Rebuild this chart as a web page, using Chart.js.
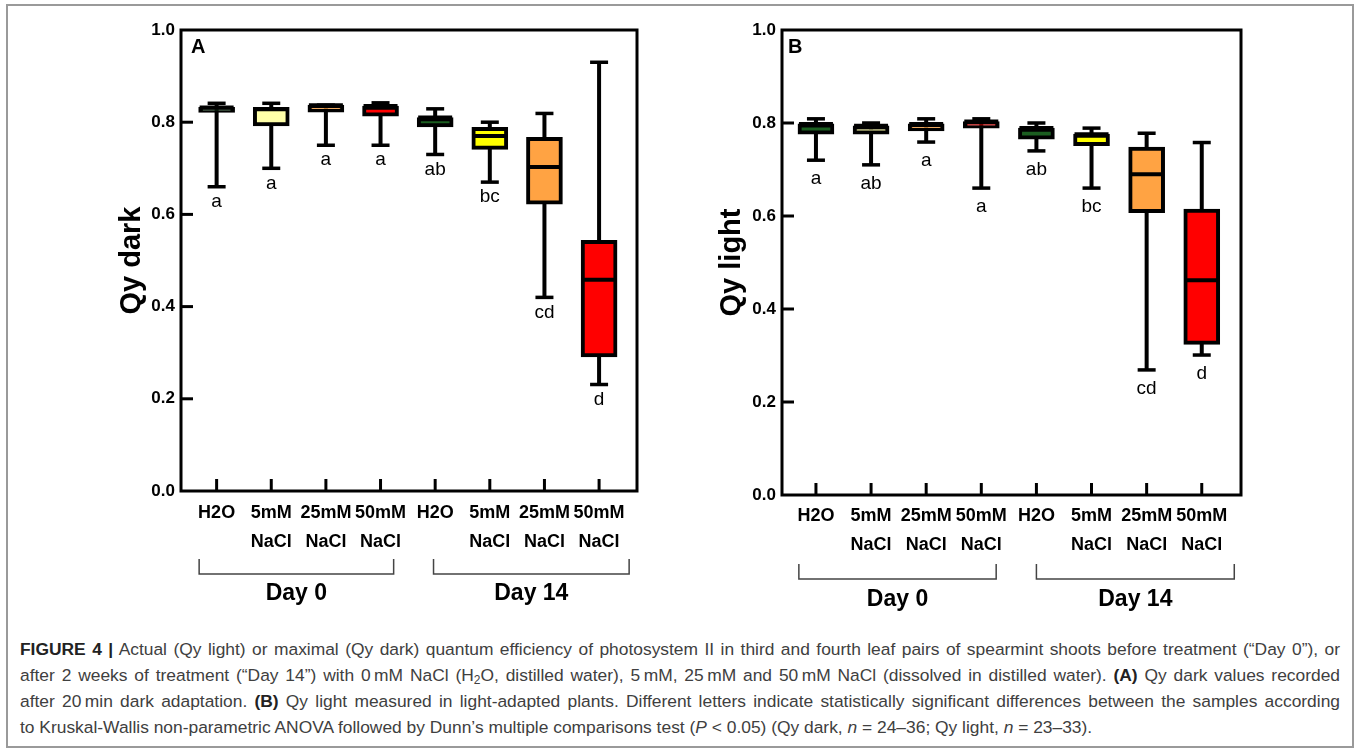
<!DOCTYPE html>
<html>
<head>
<meta charset="utf-8">
<script src="https://cdn.jsdelivr.net/npm/chart.js@4.4.1/dist/chart.umd.min.js"></script>
<style>
  body { margin: 0; background: #fff; width: 1358px; height: 750px; overflow: hidden; position: relative; font-family: "Liberation Sans", Arial, sans-serif; }
  #frame { position: absolute; left: 6px; top: 4px; width: 1348px; height: 744px; border: 2px solid #9a9a9a; box-sizing: border-box; }
  .panel { position: absolute; top: 0; }
  #caption { position: absolute; left: 20px; top: 636px; width: 1320px; font-size: 17.4px; color: #404040; line-height: 26px; }
  #caption div { white-space: nowrap; text-align: justify; text-align-last: justify; }
  #caption div.last { text-align-last: left; }
  #caption b { color: #222; }
  #caption sub { font-size: 12px; line-height: 0; vertical-align: -3px; }
</style>
</head>
<body>
<div id="frame"></div>
<canvas id="chartA" class="panel" style="left:0px" width="680" height="620"></canvas>
<canvas id="chartB" class="panel" style="left:680px" width="620" height="620"></canvas>
<div id="caption">
  <div><b>FIGURE 4 |</b> Actual (Qy light) or maximal (Qy dark) quantum efficiency of photosystem II in third and fourth leaf pairs of spearmint shoots before treatment (“Day 0”), or</div>
  <div>after 2 weeks of treatment (“Day 14”) with 0&thinsp;mM NaCl (H<sub>2</sub>O, distilled water), 5&thinsp;mM, 25&thinsp;mM and 50&thinsp;mM NaCl (dissolved in distilled water). <b>(A)</b> Qy dark values recorded</div>
  <div>after 20&thinsp;min dark adaptation. <b>(B)</b> Qy light measured in light-adapted plants. Different letters indicate statistically significant differences between the samples according</div>
  <div class="last">to Kruskal-Wallis non-parametric ANOVA followed by Dunn’s multiple comparisons test (<i>P</i> &lt; 0.05) (Qy dark, <i>n</i> = 24–36; Qy light, <i>n</i> = 23–33).</div>
</div>
<script>
// categories (two-line tick labels)
const categories = ['H2O', '5mM', '25mM', '50mM', 'H2O', '5mM', '25mM', '50mM'];
const subLabels = ['', 'NaCl', 'NaCl', 'NaCl', '', 'NaCl', 'NaCl', 'NaCl'];
const dayGroups = ['Day 0', 'Day 14'];
const yTickValues = [0, 0.2, 0.4, 0.6, 0.8, 1.0];
const boxColors = ['#1B5E20', '#FFFFA8', '#FFA343', '#FF0000', '#1B5E20', '#FFFF00', '#FFA343', '#FF0000'];

// Panel A - Qy dark
const darkMax = [0.841, 0.841, 0.837, 0.842, 0.829, 0.800, 0.819, 0.930];
const darkQ3  = [0.832, 0.832, 0.837, 0.835, 0.810, 0.789, 0.767, 0.544];
const darkMed = [0.832, 0.828, 0.837, 0.835, 0.810, 0.770, 0.703, 0.458];
const darkQ1  = [0.821, 0.792, 0.822, 0.813, 0.790, 0.741, 0.622, 0.291];
const darkMin = [0.660, 0.700, 0.750, 0.750, 0.730, 0.670, 0.420, 0.231];
const darkLetters = ['a', 'a', 'a', 'a', 'ab', 'bc', 'cd', 'd'];

// Panel B - Qy light
const lightMax = [0.809, 0.800, 0.809, 0.809, 0.800, 0.789, 0.778, 0.758];
const lightQ3  = [0.798, 0.794, 0.798, 0.803, 0.789, 0.776, 0.748, 0.615];
const lightMed = [0.798, 0.794, 0.798, 0.803, 0.789, 0.776, 0.690, 0.462];
const lightQ1  = [0.776, 0.776, 0.783, 0.789, 0.765, 0.751, 0.607, 0.324];
const lightMin = [0.720, 0.710, 0.759, 0.660, 0.740, 0.660, 0.269, 0.301];
const lightLetters = ['a', 'ab', 'a', 'a', 'ab', 'bc', 'cd', 'd'];

const FONT = '"Liberation Sans", Arial, sans-serif';

function makeBoxPlugin(p) {
    return {
        id: 'boxWhisker',
        beforeDatasetsDraw(chart) {
            const { ctx, scales: { x, y } } = chart;
            ctx.save();
            ctx.strokeStyle = '#000';
            p.max.forEach((hi, i) => {
                const px = x.getPixelForValue(i + 1);
                ctx.lineWidth = 4;
                ctx.beginPath();
                ctx.moveTo(px, y.getPixelForValue(p.min[i]));
                ctx.lineTo(px, y.getPixelForValue(hi));
                ctx.stroke();
                ctx.lineWidth = 3.5;
                [p.min[i], hi].forEach(v => {
                    const py = y.getPixelForValue(v);
                    ctx.beginPath();
                    ctx.moveTo(px - 9, py);
                    ctx.lineTo(px + 9, py);
                    ctx.stroke();
                });
            });
            ctx.restore();
        },
        afterDraw(chart) {
            const { ctx, chartArea: a, scales: { x, y } } = chart;
            ctx.save();
            // medians
            ctx.strokeStyle = '#000';
            ctx.lineWidth = 4;
            p.med.forEach((m, i) => {
                const px = x.getPixelForValue(i + 1);
                const py = y.getPixelForValue(m);
                ctx.beginPath();
                ctx.moveTo(px - 17, py);
                ctx.lineTo(px + 17, py);
                ctx.stroke();
            });
            // plot frame
            ctx.lineWidth = 3;
            ctx.strokeRect(a.left, a.top, a.right - a.left, a.bottom - a.top);
            // inside tick marks
            yTickValues.slice(1, -1).forEach(v => {
                const py = y.getPixelForValue(v);
                ctx.beginPath();
                ctx.moveTo(a.left, py);
                ctx.lineTo(a.left + 12, py);
                ctx.stroke();
            });
            categories.forEach((_, i) => {
                const px = x.getPixelForValue(i + 1);
                ctx.beginPath();
                ctx.moveTo(px, a.bottom);
                ctx.lineTo(px, a.bottom - 12);
                ctx.stroke();
            });
            // significance letters
            ctx.fillStyle = '#000';
            ctx.font = '19px ' + FONT;
            ctx.textAlign = 'center';
            ctx.textBaseline = 'middle';
            p.letters.forEach((t, i) => {
                ctx.fillText(t, x.getPixelForValue(i + 1), y.getPixelForValue(p.min[i]) + p.letterGap);
            });
            // panel letter
            ctx.font = 'bold 20px ' + FONT;
            ctx.textAlign = 'left';
            ctx.fillText(p.panel, a.left + p.panelDx, a.top + 17);
            // day brackets
            ctx.strokeStyle = '#444';
            ctx.lineWidth = 1.5;
            p.brackets.forEach((br, k) => {
                const x0 = x.getPixelForValue(br[0]);
                const x1 = x.getPixelForValue(br[1]);
                const yt = a.bottom + p.bracketTop;
                const yb = a.bottom + p.bracketTop + 15;
                ctx.beginPath();
                ctx.moveTo(x0, yt);
                ctx.lineTo(x0, yb);
                ctx.lineTo(x1, yb);
                ctx.lineTo(x1, yt);
                ctx.stroke();
                ctx.font = 'bold 23px ' + FONT;
                ctx.textAlign = 'center';
                ctx.fillText(dayGroups[k], (x0 + x1) / 2, a.bottom + p.dayY);
            });
            ctx.restore();
        }
    };
}

function drawPanel(canvasId, p) {
    const boxes = p.q1.map((lo, i) => ({ x: i + 1, y: [lo, p.q3[i]] }));
    return new Chart(document.getElementById(canvasId), {
        type: 'bar',
        data: {
            datasets: [{
                data: boxes,
                backgroundColor: boxColors,
                borderColor: '#000',
                borderWidth: 4,
                borderSkipped: false,
                barThickness: 36
            }]
        },
        options: {
            responsive: false,
            animation: false,
            devicePixelRatio: 1,
            layout: { padding: { left: 0, top: 30, right: p.padRight, bottom: 0 } },
            plugins: { legend: { display: false }, tooltip: { enabled: false } },
            scales: {
                x: {
                    type: 'linear',
                    min: p.xMin,
                    max: p.xMax,
                    offset: false,
                    grid: { display: false, drawTicks: false },
                    border: { display: false },
                    afterBuildTicks: s => { s.ticks = categories.map((_, i) => ({ value: i + 1 })); },
                    afterFit: s => { s.height = p.xAxisHeight; },
                    ticks: {
                        autoSkip: false,
                        maxRotation: 0,
                        padding: p.xPad,
                        color: '#000',
                        font: { family: FONT, size: 18, weight: 'bold', lineHeight: 1.6 },
                        callback: v => subLabels[v - 1] ? [categories[v - 1], subLabels[v - 1]] : categories[v - 1]
                    }
                },
                y: {
                    min: 0,
                    max: 1,
                    grid: { display: false, drawTicks: false },
                    border: { display: false },
                    afterBuildTicks: s => { s.ticks = yTickValues.map(v => ({ value: v })); },
                    afterFit: s => { s.width = p.yAxisWidth; },
                    ticks: {
                        padding: 6,
                        color: '#000',
                        font: { family: FONT, size: 17, weight: 'bold' },
                        callback: v => v.toFixed(1)
                    },
                    title: {
                        display: true,
                        text: p.title,
                        color: '#000',
                        font: { family: FONT, size: 29, weight: 'bold', lineHeight: 1.2 },
                        padding: { top: p.titlePad, bottom: 0 }
                    }
                }
            }
        },
        plugins: [makeBoxPlugin(p)]
    });
}

drawPanel('chartA', {
    title: 'Qy dark', panel: 'A',
    max: darkMax, q3: darkQ3, med: darkMed, q1: darkQ1, min: darkMin, letters: darkLetters,
    xMin: 0.348, xMax: 8.694, yAxisWidth: 181, padRight: 43, xAxisHeight: 129, xPad: 8,
    titlePad: 115, letterGap: 15, panelDx: 10,
    brackets: [[0.68, 4.24], [4.97, 8.55]], bracketTop: 68, dayY: 103
});

drawPanel('chartB', {
    title: 'Qy light', panel: 'B',
    max: lightMax, q3: lightQ3, med: lightMed, q1: lightQ1, min: lightMin, letters: lightLetters,
    xMin: 0.384, xMax: 8.712, yAxisWidth: 102, padRight: 59, xAxisHeight: 125, xPad: 7,
    titlePad: 35, letterGap: 19, panelDx: 6,
    brackets: [[0.69, 4.27], [5.0, 8.59]], bracketTop: 69, dayY: 105
});
</script>
</body>
</html>
